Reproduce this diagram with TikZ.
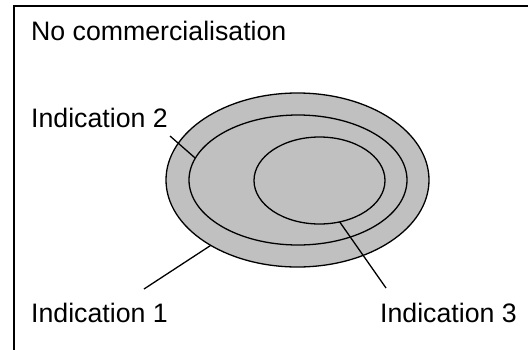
\documentclass[tikz,border=0pt]{standalone}
\usepackage{fontspec}
\setmainfont{Liberation Sans}
\usetikzlibrary{shapes.geometric}
\definecolor{regiongray}{RGB}{192,192,192}
\tikzset{
  region/.style={ellipse, draw=black, line width=1.3pt, fill=regiongray,
                 inner sep=0pt, outer sep=0pt},
  label text/.style={anchor=base west, inner sep=0pt,
                     font=\fontsize{26.7}{30}\selectfont},
  leader/.style={draw=black, line width=1.3pt},
  frame/.style={draw=black, line width=2pt}
}
\begin{document}
\begin{tikzpicture}[x=1pt, y=-1pt]
  \useasboundingbox (0,0) rectangle (528,349);
  % open frame: only the left and top edges fall inside the page
  \draw[frame] (14,360) -- (14,6) -- (540,6);

  % nested regions
  \node[region, minimum width=263pt, minimum height=174pt] (outer)  at (297.5,180) {};
  \node[region, minimum width=218pt, minimum height=130pt] (middle) at (298,180) {};
  \node[region, minimum width=131pt, minimum height=87pt]  (inner)  at (319.5,180.5) {};

  % labels
  \node[label text] (nocom) at (31,40)  {No commercialisation};
  \node[label text] (ind2)  at (31,127) {Indication 2};
  \node[label text] (ind1)  at (31,322) {Indication 1};
  \node[label text] (ind3)  at (380,322) {Indication 3};

  % leader line start points next to the labels
  \coordinate (ind2end) at (170,136);
  \coordinate (ind1end) at (144,289);
  \coordinate (ind3end) at (386,288);

  \draw[leader] (ind2end) -- (middle.168.7);
  \draw[leader] (ind1end) -- (outer.217);
  \draw[leader] (ind3end) -- (inner.296.8);
\end{tikzpicture}
\end{document}
